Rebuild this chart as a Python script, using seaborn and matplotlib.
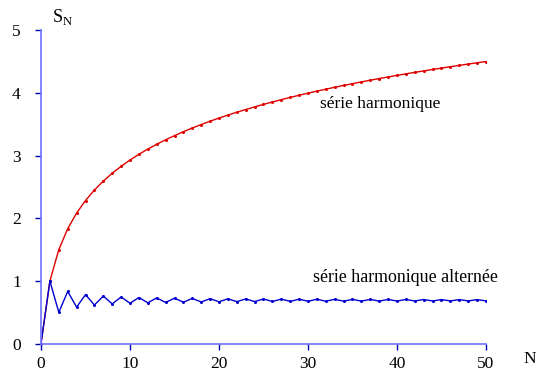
import matplotlib
matplotlib.use("Agg")
import matplotlib.pyplot as plt
import seaborn as sns
import pandas as pd

# Partial sums S_N for N = 0..50
n_values = list(range(0, 51))
harmonic = [0, 1, 1.5, 1.8333, 2.0833, 2.2833, 2.45, 2.5929, 2.7179, 2.8290, 2.9290,
            3.0199, 3.1032, 3.1801, 3.2516, 3.3182, 3.3807, 3.4396, 3.4951, 3.5477, 3.5977,
            3.6454, 3.6908, 3.7343, 3.7760, 3.8160, 3.8544, 3.8915, 3.9272, 3.9617, 3.9950,
            4.0272, 4.0585, 4.0888, 4.1182, 4.1468, 4.1746, 4.2016, 4.2279, 4.2535, 4.2785,
            4.3029, 4.3267, 4.3500, 4.3727, 4.3949, 4.4167, 4.4380, 4.4588, 4.4792, 4.4992]
alternating = [0, 1, 0.5, 0.8333, 0.5833, 0.7833, 0.6167, 0.7595, 0.6345, 0.7456, 0.6456,
               0.7365, 0.6532, 0.7301, 0.6587, 0.7254, 0.6629, 0.7218, 0.6661, 0.7188, 0.6688,
               0.7164, 0.6709, 0.7144, 0.6727, 0.7127, 0.6743, 0.7113, 0.6756, 0.7101, 0.6768,
               0.7090, 0.6778, 0.7081, 0.6787, 0.7072, 0.6794, 0.7065, 0.6802, 0.7058, 0.6808,
               0.7052, 0.6814, 0.7046, 0.6819, 0.7041, 0.6824, 0.7037, 0.6828, 0.7033, 0.6833]
x_ticks = [0, 10, 20, 30, 40, 50]
y_ticks = [0, 1, 2, 3, 4, 5]

sns.set_style("white")
plt.rcParams["font.family"] = ["Liberation Serif", "DejaVu Serif"]
plt.rcParams["mathtext.fontset"] = "custom"
plt.rcParams["mathtext.rm"] = "Liberation Serif"
plt.rcParams["text.color"] = "black"

df = pd.DataFrame({"N": n_values, "harm": harmonic, "alt": alternating})

fig = plt.figure(figsize=(5.36, 3.72), dpi=100)
ax = fig.add_axes([0.0765, 0.076, 0.8302, 0.843])

sns.lineplot(data=df, x="N", y="harm", ax=ax, color="#e00000", lw=1.0,
             marker="o", markersize=2.2, markeredgewidth=0)
sns.lineplot(data=df, x="N", y="alt", ax=ax, color="#0000d0", lw=1.0,
             marker="o", markersize=2.2, markeredgewidth=0)

ax.set_xlim(0, 50)
ax.set_ylim(0, 5)
ax.set_xticks(x_ticks)
ax.set_yticks(y_ticks)
ax.set_xlabel("")
ax.set_ylabel("")
for side in ("top", "right"):
    ax.spines[side].set_visible(False)
for side in ("left", "bottom"):
    ax.spines[side].set_color("#7070ff")
    ax.spines[side].set_linewidth(1.2)
ax.tick_params(axis="both", direction="out", length=4.5, width=1, color="#0000b0",
               labelsize=12.5, labelcolor="black", bottom=True, left=True)
ax.tick_params(axis="x", pad=4)
ax.tick_params(axis="y", pad=10)

ax.text(38.1, 3.82, "série harmonique", ha="center", va="center", fontsize=12.5)
ax.text(40.9, 1.06, "série harmonique alternée", ha="center", va="center", fontsize=12.9)
ax.text(1.2, 5.05, r"$\mathrm{S}_\mathrm{N}$", ha="left", va="bottom", fontsize=13,
        clip_on=False)
ax.text(54.9, -0.24, "N", ha="center", va="center", fontsize=12.5, clip_on=False)

fig.savefig("out.png", dpi=100)
